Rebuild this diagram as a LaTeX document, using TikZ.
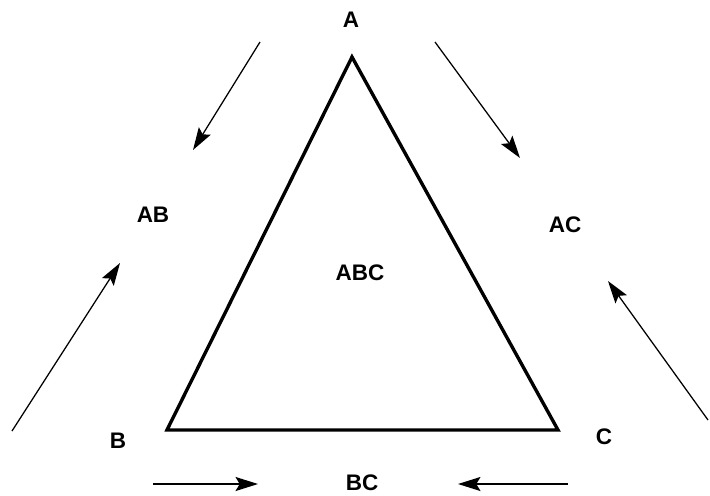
\documentclass[tikz,border=0pt]{standalone}
\usepackage{fontspec}
\setmainfont{Liberation Sans}
\usetikzlibrary{arrows.meta}

\begin{document}
\begin{tikzpicture}[x=0.025cm, y=-0.025cm,
    every node/.style={font=\fontsize{16}{18}\selectfont\bfseries, inner sep=0pt},
    side/.style={line width=2.4pt, line join=miter},
    flow/.style={line width=0.9pt, -{Stealth[length=16pt, width=10pt, inset=3pt]}}]
  \useasboundingbox (0,0) rectangle (710,495);

  % triangle corners
  \coordinate (a) at (352,57);
  \coordinate (b) at (167,430);
  \coordinate (c) at (558,430);
  \draw[side] (a) -- (b) -- (c) -- cycle;

  % labels
  \node (lA) at (351,20) {A};
  \node (lB) at (118,441) {B};
  \node (lC) at (604,437) {C};
  \node (lAB) at (153,215) {AB};
  \node (lAC) at (565,225) {AC};
  \node (lABC) at (360,273) {ABC};
  \node (lBC) at (362,483) {BC};

  % arrow ends
  \coordinate (p1) at (260,42);   \coordinate (q1) at (193,150);
  \coordinate (p2) at (435,42);   \coordinate (q2) at (520,158);
  \coordinate (p3) at (12,431);   \coordinate (q3) at (120,263);
  \coordinate (p4) at (708,420);  \coordinate (q4) at (608,281);
  \coordinate (p5) at (153,484);  \coordinate (q5) at (258,484);
  \coordinate (p6) at (568,484);  \coordinate (q6) at (458,484);

  \foreach \i in {1,...,6}
    \draw[flow] (p\i) -- (q\i);
\end{tikzpicture}
\end{document}
